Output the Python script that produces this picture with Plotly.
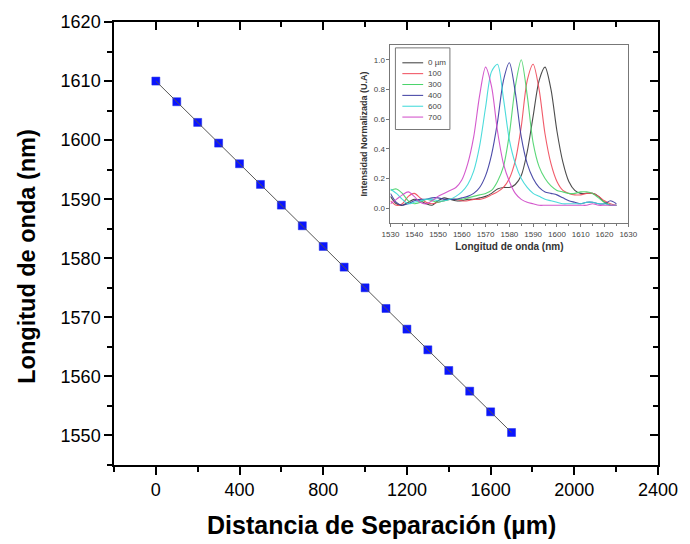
import plotly.graph_objects as go

# Main series: resonance wavelength vs. separation distance
distancia_um = [0, 100, 200, 300, 400, 500, 600, 700, 800, 900,
                1000, 1100, 1200, 1300, 1400, 1500, 1600, 1700]
longitud_nm = [1610.0, 1606.5, 1603.0, 1599.5, 1596.0, 1592.5, 1589.0, 1585.5, 1582.0,
               1578.5, 1575.0, 1571.5, 1568.0, 1564.5, 1561.0, 1557.5, 1554.0, 1550.5]

# Inset: normalized spectra for several separations
onda_nm = [1530.0, 1532.5, 1535.0, 1537.5, 1540.0, 1542.5, 1545.0, 1547.5, 1550.0, 1552.5,
           1555.0, 1557.5, 1560.0, 1562.5, 1565.0, 1567.5, 1570.0, 1572.5, 1575.0, 1577.5,
           1580.0, 1582.5, 1585.0, 1587.5, 1590.0, 1592.5, 1595.0, 1597.5, 1600.0, 1602.5,
           1605.0, 1607.5, 1610.0, 1612.5, 1615.0, 1617.5, 1620.0, 1622.5, 1625.0]
esp_0 = [0.08, 0.03, 0.02, 0.04, 0.06, 0.05, 0.03, 0.02, 0.05, 0.07, 0.06, 0.05, 0.05,
         0.06, 0.06, 0.07, 0.08, 0.10, 0.13, 0.14, 0.14, 0.16, 0.22, 0.38, 0.62, 0.86,
         0.95, 0.80, 0.52, 0.31, 0.18, 0.12, 0.10, 0.10, 0.10, 0.08, 0.04, 0.02, 0.02]
esp_100 = [0.05, 0.02, 0.03, 0.08, 0.10, 0.07, 0.04, 0.03, 0.04, 0.05, 0.06, 0.06, 0.05,
           0.05, 0.06, 0.06, 0.07, 0.09, 0.11, 0.14, 0.20, 0.32, 0.55, 0.86, 0.97, 0.80,
           0.50, 0.30, 0.18, 0.12, 0.10, 0.09, 0.09, 0.10, 0.10, 0.08, 0.05, 0.03, 0.02]
esp_300 = [0.12, 0.13, 0.10, 0.05, 0.03, 0.04, 0.06, 0.05, 0.04, 0.05, 0.06, 0.06, 0.06,
           0.07, 0.08, 0.09, 0.10, 0.12, 0.18, 0.28, 0.50, 0.82, 1.00, 0.76, 0.44, 0.28,
           0.20, 0.15, 0.12, 0.11, 0.10, 0.10, 0.11, 0.11, 0.10, 0.07, 0.04, 0.02, 0.02]
esp_400 = [0.10, 0.04, 0.02, 0.03, 0.05, 0.06, 0.06, 0.07, 0.07, 0.06, 0.06, 0.06, 0.07,
           0.08, 0.10, 0.14, 0.22, 0.36, 0.58, 0.86, 0.98, 0.78, 0.48, 0.30, 0.20, 0.14,
           0.11, 0.10, 0.09, 0.07, 0.05, 0.04, 0.03, 0.04, 0.04, 0.03, 0.03, 0.05, 0.03]
esp_600 = [0.13, 0.10, 0.06, 0.03, 0.04, 0.05, 0.06, 0.06, 0.05, 0.05, 0.06, 0.08, 0.11,
           0.16, 0.25, 0.42, 0.68, 0.92, 0.97, 0.74, 0.46, 0.30, 0.20, 0.14, 0.10, 0.08,
           0.06, 0.05, 0.04, 0.03, 0.03, 0.03, 0.03, 0.04, 0.04, 0.03, 0.03, 0.02, 0.02]
esp_700 = [0.03, 0.06, 0.09, 0.11, 0.08, 0.04, 0.03, 0.05, 0.08, 0.10, 0.12, 0.14, 0.19,
           0.30, 0.48, 0.76, 0.95, 0.82, 0.52, 0.30, 0.18, 0.10, 0.06, 0.04, 0.03, 0.02,
           0.02, 0.02, 0.02, 0.02, 0.02, 0.02, 0.02, 0.02, 0.03, 0.02, 0.02, 0.02, 0.02]

series_inset = [
    ("0 µm", esp_0, "#3a3a3a"),
    ("100", esp_100, "#f04a5a"),
    ("300", esp_300, "#4ad46a"),
    ("400", esp_400, "#3a3aa0"),
    ("600", esp_600, "#3ad8d8"),
    ("700", esp_700, "#d048c8"),
]

FONT = "Liberation Sans, Arial, sans-serif"
W, H = 690, 544
ML, MR, MT, MB = 114, 27, 20, 79


def px(xpix):
    """Horizontal pixel -> paper fraction."""
    return (xpix - ML) / (W - ML - MR)


def py(ypix):
    """Vertical pixel -> paper fraction."""
    return (H - MB - ypix) / (H - MT - MB)


fig = go.Figure()

# connecting line on the overlay axes, markers on the primary axes
fig.add_trace(go.Scatter(x=distancia_um, y=longitud_nm, mode="lines",
                         line=dict(color="#555555", width=1),
                         xaxis="x2", yaxis="y2", showlegend=False, hoverinfo="skip"))
fig.add_trace(go.Scatter(x=distancia_um, y=longitud_nm, mode="markers",
                         marker=dict(symbol="square", size=8, color="#0a14ff",
                                     line=dict(color="#1a2ae0", width=0.5)),
                         showlegend=False))

for nombre, valores, color in series_inset:
    fig.add_trace(go.Scatter(x=onda_nm, y=valores, mode="lines", name=nombre,
                             line=dict(color=color, width=1.1, shape="spline", smoothing=0.8),
                             opacity=0.9,
                             xaxis="x3", yaxis="y3", showlegend=False))

# compact legend box inside the inset
shapes = [dict(type="rect", xref="paper", yref="paper",
               x0=px(398), x1=px(453), y0=py(128), y1=py(46),
               line=dict(color="#777777", width=1), fillcolor="white", layer="above")]
annotations = []
for k, (nombre, _, color) in enumerate(series_inset):
    yc = 61 + 10.9 * k
    shapes.append(dict(type="line", xref="paper", yref="paper",
                       x0=px(405), x1=px(426), y0=py(yc), y1=py(yc),
                       line=dict(color=color, width=1), layer="above"))
    annotations.append(dict(xref="paper", yref="paper", x=px(429), y=py(yc),
                            text=nombre, showarrow=False, xanchor="left", yanchor="middle",
                            font=dict(size=8, color="#444444")))

# axis titles
annotations.append(dict(xref="paper", yref="paper", x=px(384), y=py(525),
                        text="<b>Distancia de Separación (µm)</b>", showarrow=False,
                        xanchor="center", yanchor="middle", font=dict(size=25, color="black")))
annotations.append(dict(xref="paper", yref="paper", x=px(26), y=py(255),
                        text="<b>Longitud de onda (nm)</b>", showarrow=False, textangle=-90,
                        xanchor="center", yanchor="middle", font=dict(size=23.5, color="black")))

axis_main = dict(showgrid=False, zeroline=False, showline=True, linecolor="black",
                 linewidth=1.5, tickcolor="black", tickwidth=1.5)

fig.update_layout(
    width=W, height=H,
    margin=dict(l=ML, r=MR, t=MT, b=MB),
    paper_bgcolor="white", plot_bgcolor="white",
    font=dict(family=FONT, color="black"),
    shapes=shapes, annotations=annotations,
    xaxis=dict(axis_main, range=[-200, 2400], tickvals=[0, 400, 800, 1200, 1600, 2000, 2400],
               ticks="outside", ticklen=8,
               minor=dict(dtick=200, tick0=0, ticks="outside", ticklen=5, tickwidth=1.5, tickcolor="black"),
               tickfont=dict(size=18)),
    yaxis=dict(axis_main, range=[1545, 1620], tick0=1550, dtick=10,
               ticks="outside", ticklen=8,
               minor=dict(dtick=5, tick0=1550, ticks="outside", ticklen=5, tickwidth=1.5, tickcolor="black"),
               tickfont=dict(size=18)),
    xaxis2=dict(axis_main, range=[-200, 2400], overlaying="x", side="top", anchor="y2",
                tickvals=[0, 400, 800, 1200, 1600, 2000, 2400], ticks="inside", ticklen=8,
                minor=dict(dtick=200, tick0=0, ticks="inside", ticklen=5, tickwidth=1.5, tickcolor="black"),
                showticklabels=False),
    yaxis2=dict(axis_main, range=[1545, 1620], overlaying="y", side="right", anchor="x2",
                tick0=1550, dtick=10, ticks="inside", ticklen=8,
                minor=dict(dtick=5, tick0=1550, ticks="inside", ticklen=5, tickwidth=1.5, tickcolor="black"),
                showticklabels=False),
    xaxis3=dict(domain=[px(393), px(633)], anchor="y3", range=[1530, 1630], dtick=10, tick0=1530,
                showgrid=False, zeroline=False, showline=True, mirror=True,
                linecolor="#777777", linewidth=1, ticks="outside", ticklen=3, tickcolor="#777777",
                minor=dict(dtick=5, ticks="outside", ticklen=2, tickcolor="#777777"),
                tickfont=dict(size=8, color="#444444"),
                title=dict(text="<b>Longitud de onda (nm)</b>", font=dict(size=10, color="#333333"), standoff=5)),
    yaxis3=dict(domain=[py(222), py(43)], anchor="x3", range=[-0.1, 1.1], dtick=0.2, tick0=0,
                tickformat=".1f",
                showgrid=False, zeroline=False, showline=True, mirror=True,
                linecolor="#777777", linewidth=1, ticks="outside", ticklen=3, tickcolor="#777777",
                tickfont=dict(size=8, color="#444444"),
                title=dict(text="<b>Intensidad Normalizada (U.A)</b>", font=dict(size=9, color="#333333"), standoff=4)),
    showlegend=False,
)

fig.write_html("out.html")
